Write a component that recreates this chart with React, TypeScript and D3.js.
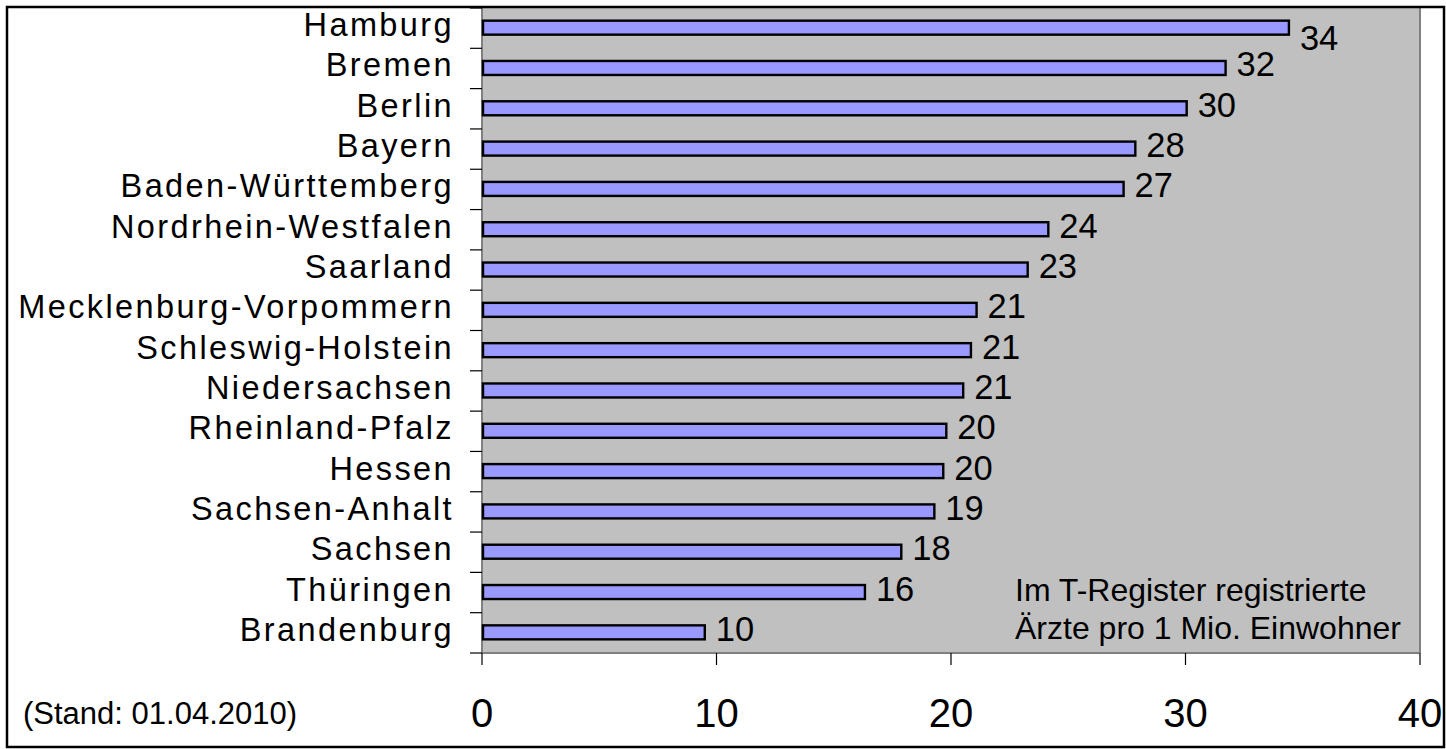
import React from "react";
import * as d3 from "d3";

const categories = [
  "Hamburg",
  "Bremen",
  "Berlin",
  "Bayern",
  "Baden-Württemberg",
  "Nordrhein-Westfalen",
  "Saarland",
  "Mecklenburg-Vorpommern",
  "Schleswig-Holstein",
  "Niedersachsen",
  "Rheinland-Pfalz",
  "Hessen",
  "Sachsen-Anhalt",
  "Sachsen",
  "Thüringen",
  "Brandenburg",
];
const values = [34.41, 31.71, 30.05, 27.86, 27.36, 24.15, 23.27, 21.09, 20.85, 20.52, 19.8, 19.67, 19.29, 17.88, 16.33, 9.5];
const valueLabels = ["34", "32", "30", "28", "27", "24", "23", "21", "21", "21", "20", "20", "19", "18", "16", "10"];
const xTicks = [0, 10, 20, 30, 40];
const noteLines = ["Im T-Register registrierte", "Ärzte pro 1 Mio. Einwohner"];
const footnote = "(Stand: 01.04.2010)";

const W = 1446;
const H = 749;
const plot = { left: 482, right: 1420, top: 8, bottom: 653 };
const FONT = "'Liberation Sans', Arial, sans-serif";

export default function App() {
  const x = d3.scaleLinear().domain([0, 40]).range([plot.left, plot.right]);
  const y = d3.scaleBand<string>().domain(categories).range([plot.top, plot.bottom]).padding(0);
  const bw = y.bandwidth();
  const barH = 14;
  const boundaries = d3.range(categories.length + 1).map((i) => plot.top + i * bw);

  return (
    <svg width={W} height={H} style={{ position: "absolute", left: 0, top: 0, background: "#fff" }} fontFamily={FONT}>
      <rect x={0} y={0} width={W} height={H} fill="#fff" />
      {/* plot background */}
      <rect x={plot.left} y={plot.top} width={plot.right - plot.left} height={plot.bottom - plot.top} fill="#C0C0C0" />
      {/* plot border */}
      <line x1={plot.left} x2={plot.left} y1={plot.top} y2={plot.bottom} stroke="#808080" strokeWidth={2} />
      <line x1={plot.right} x2={plot.right} y1={plot.top} y2={plot.bottom} stroke="#808080" strokeWidth={2} />
      <line x1={plot.left} x2={plot.right} y1={plot.bottom} y2={plot.bottom} stroke="#808080" strokeWidth={2} />

      {/* y ticks */}
      {boundaries.map((b, i) => (
        <line key={"yt" + i} x1={plot.left - 12} x2={plot.left} y1={b} y2={b} stroke="#000" strokeWidth={1.2} />
      ))}
      {/* x ticks */}
      {xTicks.map((t) => (
        <line key={"xt" + t} x1={x(t)} x2={x(t)} y1={plot.bottom} y2={plot.bottom + 12} stroke="#000" strokeWidth={1.2} />
      ))}
      {xTicks.map((t) => (
        <text key={"xl" + t} x={x(t)} y={727} textAnchor="middle" fontSize={40} fill="#000">
          {t}
        </text>
      ))}

      {/* bars */}
      {categories.map((c, i) => {
        const cy = (y(c) as number) + bw / 2;
        return (
          <rect
            key={"b" + c}
            x={x(0) + 1}
            y={cy - barH / 2 - 0.5}
            width={x(values[i]) - x(0) - 1}
            height={barH}
            fill="#9999FF"
            stroke="#000"
            strokeWidth={2.4}
          />
        );
      })}

      {/* value labels */}
      {categories.map((c, i) => {
        const cy = (y(c) as number) + bw / 2;
        const base = Math.max(cy + 8, plot.top + 42);
        return (
          <text key={"v" + c} x={x(values[i]) + 11} y={base} fontSize={34.5} fill="#000">
            {valueLabels[i]}
          </text>
        );
      })}

      {/* category labels */}
      {categories.map((c) => {
        const cy = (y(c) as number) + bw / 2;
        return (
          <text key={"c" + c} x={454} y={cy + 8} textAnchor="end" fontSize={32.5} letterSpacing={2.4} fill="#000">
            {c}
          </text>
        );
      })}

      {/* note */}
      {noteLines.map((l, i) => (
        <text key={"n" + i} x={1015} y={601 + i * 37.5} fontSize={32} fill="#000">
          {l}
        </text>
      ))}

      <text x={23} y={724} fontSize={31} fill="#000">
        {footnote}
      </text>

      {/* outer border */}
      <rect x={7} y={7} width={1437} height={740} fill="none" stroke="#000" strokeWidth={2.5} />
    </svg>
  );
}
